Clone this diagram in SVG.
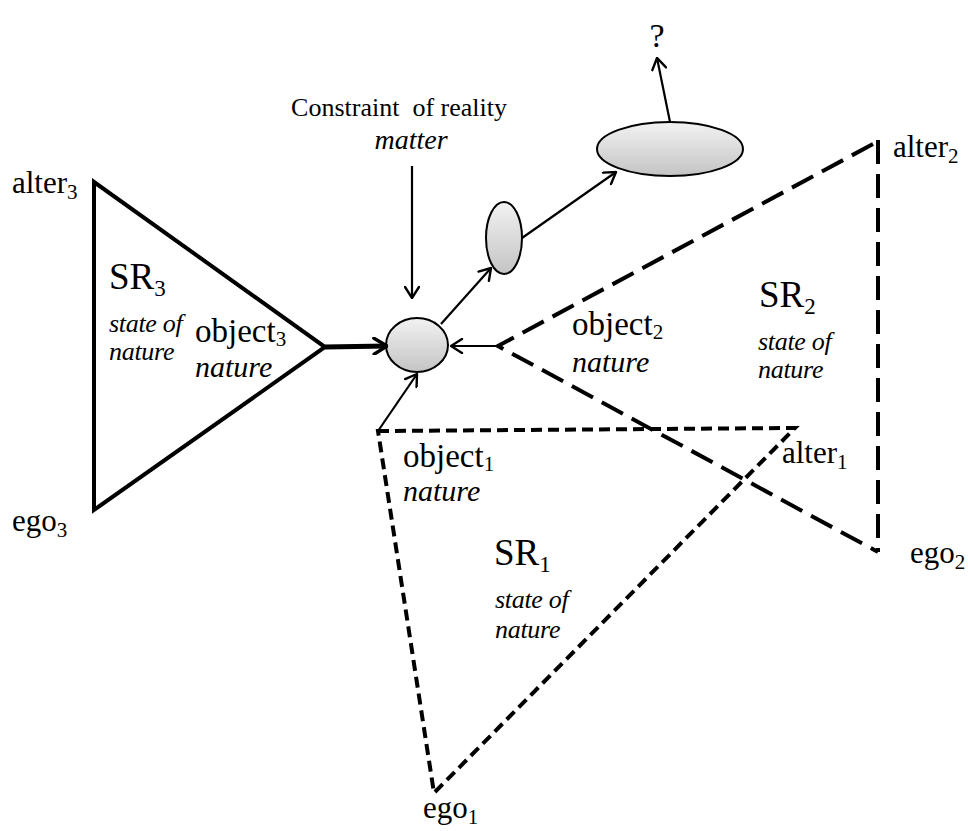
<svg xmlns="http://www.w3.org/2000/svg" width="968" height="831" viewBox="0 0 968 831">
<style>
.t{font-family:"Liberation Serif","Times New Roman",serif;fill:#000}
.lbl{font-size:31px}
.obj{font-size:33px}
.sr{font-size:37px}
.it{font-style:italic}
.sm{font-size:26px;font-style:italic;letter-spacing:-0.3px}
.nat{font-size:30px;font-style:italic}
.sub{font-size:21px}
.subl{font-size:23px}
.solid{fill:none;stroke:#000;stroke-width:4;stroke-linejoin:miter}
.long{fill:none;stroke:#000;stroke-width:4;stroke-dasharray:24 10}
.short{fill:none;stroke:#000;stroke-width:4;stroke-dasharray:11 6}
.conn{fill:none;stroke:#000;stroke-width:2.2}
.ell{fill:url(#g);stroke:#000;stroke-width:2}
</style>
<defs>
<linearGradient id="g" x1="0" y1="0" x2="0" y2="1">
<stop offset="0" stop-color="#f2f2f2"/>
<stop offset="1" stop-color="#c4c4c4"/>
</linearGradient>
<marker id="arr" viewBox="0 0 14 16" refX="13" refY="8" markerWidth="14" markerHeight="16" markerUnits="userSpaceOnUse" orient="auto">
<path d="M2,1 L13,8 L2,15" fill="none" stroke="#000" stroke-width="2.4" stroke-linecap="round"/>
</marker>
<marker id="arrb" viewBox="0 0 16 18" refX="15" refY="9" markerWidth="16" markerHeight="18" markerUnits="userSpaceOnUse" orient="auto">
<path d="M2,1 L15,9 L2,17" fill="none" stroke="#000" stroke-width="3.4" stroke-linecap="round"/>
</marker>
</defs>
<rect width="968" height="831" fill="#fff"/>

<g id="SR3">
<polygon class="solid" points="94,182 94,510 325,347"/>
<text class="t lbl" x="12" y="193">alter<tspan class="sub" dy="6">3</tspan></text>
<text class="t lbl" x="12" y="531">ego<tspan class="sub" dy="6">3</tspan></text>
<text class="t sr" x="109" y="289">SR<tspan class="subl" dy="7">3</tspan></text>
<text class="t sm" x="109" y="332">state of</text>
<text class="t sm" x="109" y="360">nature</text>
<text class="t obj" x="195" y="342">object<tspan class="sub" dy="4">3</tspan></text>
<text class="t nat" x="195" y="377">nature</text>
</g>

<g id="SR2">
<polyline class="long" points="873,144 498,346 878,552"/>
<line class="long" x1="878" y1="140" x2="878" y2="552"/>
<text class="t lbl" x="893" y="157">alter<tspan class="sub" dy="6">2</tspan></text>
<text class="t lbl" x="910" y="563">ego<tspan class="sub" dy="6">2</tspan></text>
<text class="t sr" x="759" y="307">SR<tspan class="subl" dy="7">2</tspan></text>
<text class="t sm" x="758" y="350">state of</text>
<text class="t sm" x="758" y="378">nature</text>
<text class="t obj" x="572" y="335">object<tspan class="sub" dy="4">2</tspan></text>
<text class="t nat" x="572" y="372">nature</text>
</g>

<g id="SR1">
<polygon class="short" points="378,431 795,428 434,793"/>
<text class="t lbl" x="782" y="463">alter<tspan class="sub" dy="6">1</tspan></text>
<text class="t lbl" x="423" y="818">ego<tspan class="sub" dy="6">1</tspan></text>
<text class="t sr" x="494" y="565">SR<tspan class="subl" dy="7">1</tspan></text>
<text class="t sm" x="495" y="608">state of</text>
<text class="t sm" x="495" y="638">nature</text>
<text class="t obj" x="403" y="467">object<tspan class="sub" dy="4">1</tspan></text>
<text class="t nat" x="403" y="501" font-size="29">nature</text>
</g>

<g id="constraint">
<text class="t" font-size="26" x="399" y="116" text-anchor="middle" xml:space="preserve">Constraint  of reality</text>
<text class="t it" font-size="28" x="411" y="149" text-anchor="middle">matter</text>
</g>

<g id="question">
<text class="t" font-size="34" x="657" y="47" text-anchor="middle">?</text>
</g>

<g id="circle"><ellipse class="ell" cx="417" cy="345" rx="31" ry="27"/></g>
<g id="small-ellipse"><ellipse class="ell" cx="504" cy="238" rx="18" ry="36"/></g>
<g id="big-ellipse"><ellipse class="ell" cx="670" cy="149" rx="73" ry="27"/></g>

<g id="connectors">
<line x1="325" y1="347" x2="387" y2="346" fill="none" stroke="#000" stroke-width="5" marker-end="url(#arrb)"/>
<line class="conn" x1="412" y1="166" x2="412" y2="298" marker-end="url(#arr)"/>
<line class="conn" x1="498" y1="346" x2="451" y2="346" marker-end="url(#arr)"/>
<line class="conn" x1="378" y1="431" x2="417" y2="374" marker-end="url(#arr)"/>
<line class="conn" x1="441" y1="324" x2="491" y2="268" marker-end="url(#arr)"/>
<line class="conn" x1="522" y1="238" x2="616" y2="172" marker-end="url(#arr)"/>
<line class="conn" x1="670" y1="122" x2="657" y2="58" marker-end="url(#arr)"/>
</g>
</svg>
